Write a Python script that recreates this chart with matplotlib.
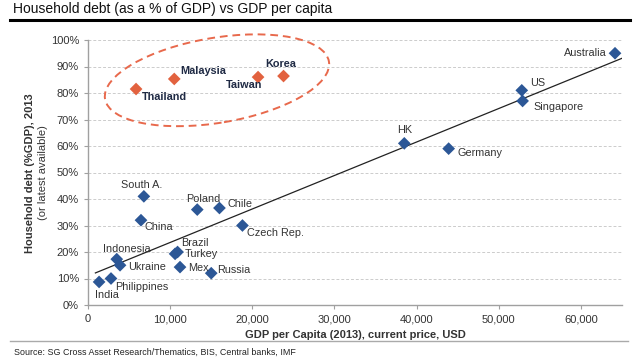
import matplotlib
matplotlib.use("Agg")
import matplotlib.pyplot as plt
import matplotlib.transforms as mtransforms
from matplotlib.patches import Ellipse
from matplotlib.ticker import FuncFormatter, MultipleLocator

plt.rcParams['font.family'] = ['Liberation Sans', 'DejaVu Sans']

# Data: GDP per capita (USD), household debt (% of GDP)
asia_names = ['Thailand', 'Malaysia', 'Taiwan', 'Korea']
asia_gdp = [5850, 10500, 20700, 23800]
asia_debt = [81.5, 85.3, 86.0, 86.4]

other_names = ['Australia', 'US', 'Singapore', 'HK', 'Germany', 'South A.', 'China',
               'Poland', 'Chile', 'Czech Rep.', 'Brazil', 'Turkey', 'Mex', 'Russia',
               'Indonesia', 'Ukraine', 'Philippines', 'India']
other_gdp = [64150, 52800, 52900, 38500, 43900, 6800, 6450,
             13300, 16000, 18800, 10900, 10600, 11200, 15000,
             3500, 3900, 2800, 1350]
other_debt = [95.0, 81.0, 77.0, 61.0, 59.0, 41.0, 32.0,
              36.0, 36.6, 30.0, 20.0, 19.3, 14.3, 12.0,
              17.3, 15.0, 10.0, 8.7]

trend_x = [900, 65000]
trend_y = [12.1, 93.1]

x_ticks = [0, 10000, 20000, 30000, 40000, 50000, 60000]

# label offsets in pixels (dx, dy, ha)
asia_offsets = [(6, -8, 'left'), (6, 8, 'left'), (4, -8, 'right'), (-18, 12, 'left')]
other_offsets = [(-8, 0, 'right'), (8, 7, 'left'), (11, -6, 'left'), (-7, 13, 'left'),
                 (9, -4, 'left'), (-23, 11, 'left'), (4, -7, 'left'), (-11, 11, 'left'),
                 (8, 4, 'left'), (5, -7, 'left'), (4, 9, 'left'), (10, 0, 'left'),
                 (8, -1, 'left'), (6, 3, 'left'), (-14, 10, 'left'), (8, -2, 'left'),
                 (4, -9, 'left'), (-4, -13, 'left')]

blue = '#2C5796'
orange = '#E2623F'
navy = '#1F2A44'
grey_text = '#333333'

fig = plt.figure(figsize=(6.4, 3.6), dpi=100)
ax = fig.add_axes([88 / 640, 1 - 305 / 360, 534 / 640, 265 / 360])

# Trend line
ax.plot(trend_x, trend_y, color='#222222', linewidth=0.9, zorder=2)

# Points
ax.scatter(other_gdp, other_debt, marker='D', s=42, color=blue, edgecolors='none', zorder=3)
ax.scatter(asia_gdp, asia_debt, marker='D', s=42, color=orange, edgecolors='none', zorder=3)

# Labels
px = 72 / 100  # pixels -> points
for name, x, y, (dx, dy, ha) in zip(other_names, other_gdp, other_debt, other_offsets):
    ax.annotate(name, (x, y), xytext=(dx * px, dy * px), textcoords='offset points',
                ha=ha, va='center', fontsize=7.8, color=grey_text, zorder=4)
for name, x, y, (dx, dy, ha) in zip(asia_names, asia_gdp, asia_debt, asia_offsets):
    ax.annotate(name, (x, y), xytext=(dx * px, dy * px), textcoords='offset points',
                ha=ha, va='center', fontsize=7.8, color=navy, fontweight='bold', zorder=4)

# Dashed ellipse round the Asian group (sized in inches, centred in data coords)
ell_trans = fig.dpi_scale_trans + mtransforms.ScaledTranslation(15700, 84.8, ax.transData)
ax.add_patch(Ellipse((0, 0), 2.27, 0.85, angle=9.5, transform=ell_trans, fill=False,
                     edgecolor='#E8694C', linewidth=1.4, linestyle=(0, (4, 2.5)),
                     zorder=1, clip_on=False))

# Axes styling
ax.set_xlim(0, 65000)
ax.set_ylim(0, 100)
ax.set_xticks(x_ticks)
ax.xaxis.set_major_formatter(FuncFormatter(lambda v, p: f'{int(v):,}'))
ax.yaxis.set_major_locator(MultipleLocator(10))
ax.yaxis.set_major_formatter(FuncFormatter(lambda v, p: f'{int(v)}%'))
ax.tick_params(axis='both', labelsize=8, colors='#A0A0A0', labelcolor=grey_text, length=3, width=0.8)
ax.grid(axis='y', linestyle=(0, (3, 2)), color='#CCCCCC', linewidth=0.7)
ax.set_axisbelow(True)
for side in ['top', 'right']:
    ax.spines[side].set_visible(False)
for side in ['left', 'bottom']:
    ax.spines[side].set_color('#A0A0A0')
    ax.spines[side].set_linewidth(1.0)

ax.set_xlabel('GDP per Capita (2013), current price, USD', fontsize=8, fontweight='bold',
              color=grey_text, labelpad=4)
fig.text(30 / 640, 1 - 173 / 360, 'Household debt (%GDP), 2013', rotation=90, fontsize=8,
         fontweight='bold', color=grey_text, ha='center', va='center')
fig.text(43 / 640, 1 - 173 / 360, '(or latest available)', rotation=90, fontsize=8,
         color=grey_text, ha='center', va='center')

# Title, rules and source
fig.text(13 / 640, 1 - 9 / 360, 'Household debt (as a % of GDP) vs GDP per capita', fontsize=10,
         color='#111111', ha='left', va='center')
fig.add_artist(plt.Line2D([10 / 640, 630 / 640], [1 - 20 / 360] * 2, color='black', linewidth=2.2))
fig.add_artist(plt.Line2D([10 / 640, 628 / 640], [1 - 341 / 360] * 2, color='#AAAAAA', linewidth=1.0))
fig.text(14 / 640, 1 - 352 / 360, 'Source: SG Cross Asset Research/Thematics, BIS, Central banks, IMF',
         fontsize=6.4, color='#222222', ha='left', va='center')

fig.savefig('out.png', dpi=100)
